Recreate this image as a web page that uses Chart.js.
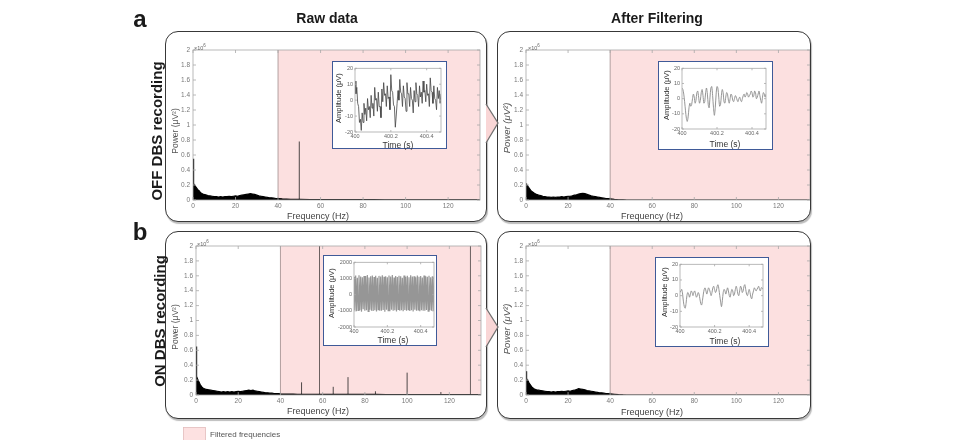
<!DOCTYPE html>
<html>
<head>
<meta charset="utf-8">
<script src="https://cdn.jsdelivr.net/npm/chart.js@4.4.1/dist/chart.umd.min.js"></script>
<style>
  body { margin:0; background:#fff; width:957px; height:440px; overflow:hidden; position:relative; font-family:"Liberation Sans", Arial, sans-serif; }
  .panel { position:absolute; border:1.5px solid #383838; border-radius:13px; box-shadow:1px 2px 1px #bdbdbd; box-sizing:border-box; background:#fff; }
  .inset { position:absolute; border:1.6px solid #3f5a98; background:#fff; box-sizing:border-box; }
  canvas { position:absolute; }
  .lbl { position:absolute; white-space:nowrap; transform:translate(-50%,-50%); line-height:1; }
  .rot { transform:translate(-50%,-50%) rotate(-90deg); }
  .big { font-weight:bold; color:#1a1a1a; }
  .pw { font-size:8.5px; color:#555; }
  .pw.it { font-size:9.5px; font-style:italic; }
  .fq { font-size:9px; color:#444; }
  .amp { font-size:7.5px; color:#333; }
  .tm { font-size:8.5px; color:#333; }
  .exp { position:absolute; font-size:5.5px; color:#666; line-height:1; }
  .exp sup { font-size:4.5px; }
</style>
</head>
<body>
<div class="panel" style="left:165px;top:31px;width:322px;height:191px"></div>
<div class="panel" style="left:497px;top:31px;width:314px;height:191px"></div>
<div class="panel" style="left:165px;top:231px;width:322px;height:188px"></div>
<div class="panel" style="left:497px;top:231px;width:314px;height:188px"></div>

<canvas id="offRaw" width="318" height="188" style="left:166px;top:32px"></canvas>
<canvas id="offFilt" width="312" height="188" style="left:498px;top:32px"></canvas>
<canvas id="onRaw" width="318" height="185" style="left:166px;top:232px"></canvas>
<canvas id="onFilt" width="312" height="185" style="left:498px;top:232px"></canvas>

<div class="inset" style="left:332px;top:61px;width:115px;height:88px"></div>
<div class="inset" style="left:658px;top:61px;width:115px;height:89px"></div>
<div class="inset" style="left:323px;top:255px;width:114px;height:91px"></div>
<div class="inset" style="left:655px;top:257px;width:114px;height:90px"></div>

<canvas id="offRawIn" width="111" height="84" style="left:334px;top:63px"></canvas>
<canvas id="offFiltIn" width="111" height="85" style="left:660px;top:63px"></canvas>
<canvas id="onRawIn" width="110" height="87" style="left:325px;top:257px"></canvas>
<canvas id="onFiltIn" width="110" height="86" style="left:657px;top:259px"></canvas>

<svg width="957" height="440" style="position:absolute;left:0;top:0;pointer-events:none">
  <polygon points="486,104 498,123 486,143" fill="#f9d6d6"/>
  <polyline points="486,104 498,123 486,143" fill="none" stroke="#707070" stroke-width="1.3"/>
  <polygon points="486,308 498,327 486,347" fill="#f9d6d6"/>
  <polyline points="486,308 498,327 486,347" fill="none" stroke="#707070" stroke-width="1.3"/>
  <rect x="183.5" y="427.5" width="22" height="14" fill="#fde1e1" stroke="#e3bcbc" stroke-width="0.8"/>
</svg>

<div class="lbl big" style="left:140px;top:19px;font-size:24px">a</div>
<div class="lbl big" style="left:140px;top:232px;font-size:24px">b</div>
<div class="lbl big" style="left:327px;top:18px;font-size:14px">Raw data</div>
<div class="lbl big" style="left:657px;top:18px;font-size:14px">After Filtering</div>
<div class="lbl big rot" style="left:156px;top:131px;font-size:15px">OFF DBS recording</div>
<div class="lbl big rot" style="left:159px;top:321px;font-size:15px">ON DBS recording</div>

<div class="lbl rot pw" style="left:175px;top:131px">Power (μV²)</div>
<div class="lbl rot pw it" style="left:507px;top:128px">Power (μV²)</div>
<div class="lbl rot pw" style="left:175px;top:327px">Power (μV²)</div>
<div class="lbl rot pw it" style="left:507px;top:329px">Power (μV²)</div>

<div class="lbl fq" style="left:318px;top:216px">Frequency (Hz)</div>
<div class="lbl fq" style="left:652px;top:216px">Frequency (Hz)</div>
<div class="lbl fq" style="left:318px;top:411px">Frequency (Hz)</div>
<div class="lbl fq" style="left:652px;top:412px">Frequency (Hz)</div>

<div class="lbl rot amp" style="left:339px;top:98px">Amplitude (μV)</div>
<div class="lbl rot amp" style="left:667px;top:95px">Amplitude (μV)</div>
<div class="lbl rot amp" style="left:332px;top:293px">Amplitude (μV)</div>
<div class="lbl rot amp" style="left:665px;top:292px">Amplitude (μV)</div>

<div class="lbl tm" style="left:398px;top:145px">Time (s)</div>
<div class="lbl tm" style="left:725px;top:144px">Time (s)</div>
<div class="lbl tm" style="left:393px;top:340px">Time (s)</div>
<div class="lbl tm" style="left:725px;top:341px">Time (s)</div>

<div class="exp" style="left:194px;top:44px">×10<sup>6</sup></div>
<div class="exp" style="left:528px;top:44px">×10<sup>6</sup></div>
<div class="exp" style="left:197px;top:240px">×10<sup>6</sup></div>
<div class="exp" style="left:528px;top:240px">×10<sup>6</sup></div>

<div class="lbl" style="left:210px;top:435px;transform:translate(0,-50%);font-size:8px;color:#555">Filtered frequencies</div>

<script>
// frequency grid of the spectra (Hz)
const specFreq = [0, 0.2, 0.4, 0.7, 1, 1.5, 2, 2.5, 3, 3.5, 4,
  5, 6, 7, 8, 9, 10, 11, 12, 13, 14, 15, 16, 17, 18, 19, 20, 21, 22, 23, 24, 25, 26, 27, 28, 29, 30,
  31, 32, 33, 34, 35, 36, 37, 38, 39, 40,
  42, 44, 46, 48, 50,
  55, 60, 65, 70, 75, 80, 85, 90, 95, 100, 105, 110, 115, 120, 125, 130, 135];

// power, x10^6 uV^2
const offRawPower = [0.55, 0.3, 0.22, 0.2, 0.19, 0.17, 0.15, 0.13, 0.12, 0.1, 0.09,
  0.075, 0.07, 0.06, 0.055, 0.05, 0.045, 0.045, 0.04, 0.045, 0.04, 0.045, 0.045, 0.05, 0.045, 0.05, 0.055,
  0.05, 0.06, 0.065, 0.07, 0.075, 0.08, 0.085, 0.08, 0.075, 0.065, 0.055, 0.05, 0.045, 0.04, 0.035, 0.03,
  0.03, 0.025, 0.02, 0.02,
  0.015, 0.012, 0.01, 0.01, 0.009,
  0.007, 0.006, 0.006, 0.005, 0.005, 0.005, 0.005, 0.004, 0.004, 0.004, 0.004, 0.004, 0.004, 0.004, 0.003, 0.003, 0.003];
const offFiltPower = [0.22, 0.21, 0.2, 0.19, 0.18, 0.16, 0.14, 0.12, 0.11, 0.1, 0.09,
  0.075, 0.065, 0.06, 0.05, 0.045, 0.04, 0.04, 0.035, 0.04, 0.035, 0.04, 0.04, 0.045, 0.04, 0.045, 0.05,
  0.05, 0.055, 0.065, 0.07, 0.08, 0.085, 0.09, 0.085, 0.075, 0.065, 0.055, 0.05, 0.045, 0.04, 0.035, 0.03,
  0.025, 0.02, 0.018, 0.015,
  0.008, 0.004, 0.002, 0.001, 0,
  0, 0, 0, 0, 0, 0, 0, 0, 0, 0, 0, 0, 0, 0, 0, 0, 0];
const onRawPower = [0.65, 0.3, 0.25, 0.22, 0.2, 0.17, 0.14, 0.12, 0.1, 0.09, 0.085,
  0.075, 0.07, 0.065, 0.06, 0.055, 0.05, 0.045, 0.04, 0.045, 0.04, 0.045, 0.04, 0.045, 0.04, 0.045, 0.05,
  0.045, 0.05, 0.055, 0.06, 0.065, 0.06, 0.065, 0.055, 0.05, 0.045, 0.04, 0.035, 0.03, 0.03, 0.025, 0.025,
  0.02, 0.02, 0.018, 0.015,
  0.014, 0.012, 0.012, 0.01, 0.01,
  0.01, 0.009, 0.009, 0.008, 0.008, 0.008, 0.008, 0.007, 0.007, 0.007, 0.007, 0.007, 0.007, 0.006, 0.006, 0.006, 0.006];
const onFiltPower = [0.32, 0.25, 0.22, 0.2, 0.19, 0.16, 0.14, 0.12, 0.1, 0.09, 0.08,
  0.07, 0.065, 0.06, 0.055, 0.05, 0.045, 0.045, 0.04, 0.045, 0.04, 0.045, 0.045, 0.05, 0.045, 0.05, 0.055,
  0.05, 0.06, 0.065, 0.075, 0.085, 0.08, 0.075, 0.07, 0.06, 0.055, 0.05, 0.045, 0.04, 0.035, 0.03, 0.03,
  0.025, 0.02, 0.018, 0.015,
  0.01, 0.005, 0.002, 0.001, 0,
  0, 0, 0, 0, 0, 0, 0, 0, 0, 0, 0, 0, 0, 0, 0, 0, 0];

// narrow peaks
const offRawSpikeFreq = [50];
const offRawSpikePower = [0.78];
const onRawSpikeFreq = [50, 65, 72, 85, 100, 116];
const onRawSpikePower = [0.17, 0.11, 0.24, 0.05, 0.3, 0.04];
const onRawLineFreq = [58.5, 130];   // peaks running off the top of the axis
const onRawLinePower = [2, 2];

const filterBand = [40, 135];

// inset time series, uV, one sample every 5 ms from 400 s
const insetStart = 400;
const insetStep = 0.005;
const offRawAmp = [12, 4, 8, -2, -4, -14, -12, -19, -8, -14,
  -2, -9, -5, -13, 1, -6, -4, -11, 3, -5,
  -2, -10, 8, 0, 1, -7, 5, -4, -4, -11,
  7, -1, 11, 3, 4, -4, 9, 1, 2, -6,
  16, 6, 5, -3, -4, -17, -10, -2, 6, 0,
  13, 5, 4, -4, 9, 2, 1, -7, 11, 4,
  4, -4, 8, 1, 0, -8, 6, -1, 11, 4,
  3, -4, 9, 2, 5, -2, 12, 5, 6, -1,
  10, 3, 4, -4, 14, 6, 5, -2, 9, 1,
  0, -6, 8, 1, 6, -2, 4];
const offFiltAmp = [7, 6, 3, -2, -8, -13, -15, -12, -6, -3,
  -5, -4, 0, 3, 1, -3, -1, 4, 5, 1,
  -3, -1, 4, 6, 2, -3, -2, 4, 7, 3,
  -4, -6, 1, 7, 8, 2, -6, -11, -6, 3,
  8, 7, 1, -5, -4, 2, 6, 4, -2, -3,
  1, 4, 3, -1, -3, 0, 3, 2, -1, -2,
  0, 2, 1, -1, -2, 0, 1, -1, -2, 0,
  2, 3, 1, 2, 4, 3, 1, 2, 3, 5,
  4, 1, 2, 5, 4, 0, 1, 3, 5, 2,
  -1, -3, 1, 4, 3, 1, 3];
const onRawAmp = [1100, -950, 1180, -1020, 1050, -980, 1200, -960, 1120, -1050,
  1080, -900, 1150, -1000, 1150, -970, 1210, -1030, 1060, -940,
  1130, -990, 1190, -1010, 1090, -960, 1170, -1040, 1040, -920,
  1160, -990, 1120, -1000, 1200, -950, 1100, -1060, 1140, -930,
  1070, -990, 1180, -1020, 1120, -940, 1210, -1000, 1060, -960,
  1150, -1040, 1090, -910, 1170, -1000, 1130, -970, 1050, -1030,
  1190, -950, 1100, -990, 1160, -920, 1080, -1010, 1200, -960,
  1120, -1040, 1140, -930, 1070, -1000, 1180, -950, 1110, -1020,
  1150, -960, 1060, -990, 1190, -1000, 1130, -950, 1100, -1020,
  1170, -960, 1080, -990, 1140, -1000, 1120];
const onFiltAmp = [2, 3, 4, 1, -4, -7, -8, -5, 0, 2,
  1, -1, 1, 3, 2, 0, 2, 3, 1, -1,
  0, 2, 1, -2, -5, -6, -3, 1, 4, 5,
  3, 1, 3, 5, 4, 2, 0, 2, 5, 6,
  4, 2, 3, 6, 7, 4, 0, -4, -7, -3,
  2, 4, 3, 1, 3, 5, 3, 0, -1, 2,
  4, 3, 0, 1, 4, 6, 4, 1, 0, 3,
  6, 5, 2, 3, 6, 7, 4, 1, 0, 2,
  4, 2, -1, -2, 1, 3, 5, 4, 3, 4,
  5, 6, 4, 3, 5, 5, 4];

Chart.defaults.font.family = '"Liberation Sans", Arial, sans-serif';
Chart.defaults.color = '#666';

// pink filtered band behind the data, MATLAB-like box with inward ticks on top
const framePlugin = {
  id: 'frame',
  beforeDatasetsDraw(chart, args, opts) {
    if (!opts.band) return;
    const { ctx, chartArea: a, scales: { x } } = chart;
    const x0 = x.getPixelForValue(opts.band[0]);
    const x1 = x.getPixelForValue(opts.band[1]);
    ctx.save();
    ctx.fillStyle = '#fce0e0';
    ctx.fillRect(x0, a.top, x1 - x0, a.bottom - a.top);
    ctx.strokeStyle = '#a08c8c';
    ctx.lineWidth = 0.8;
    ctx.beginPath();
    ctx.moveTo(x0, a.top);
    ctx.lineTo(x0, a.bottom);
    ctx.stroke();
    ctx.restore();
  },
  afterDraw(chart, args, opts) {
    const { ctx, chartArea: a, scales: { x, y } } = chart;
    const len = opts.tick || 3;
    ctx.save();
    ctx.strokeStyle = '#a8a8a8';
    ctx.lineWidth = 0.8;
    ctx.strokeRect(a.left, a.top, a.right - a.left, a.bottom - a.top);
    ctx.beginPath();
    x.ticks.forEach(t => {
      const px = x.getPixelForValue(t.value);
      ctx.moveTo(px, a.bottom); ctx.lineTo(px, a.bottom - len);
      ctx.moveTo(px, a.top); ctx.lineTo(px, a.top + len);
    });
    y.ticks.forEach(t => {
      const py = y.getPixelForValue(t.value);
      ctx.moveTo(a.left, py); ctx.lineTo(a.left + len, py);
      ctx.moveTo(a.right, py); ctx.lineTo(a.right - len, py);
    });
    ctx.stroke();
    ctx.restore();
  }
};

function spikeData(freqs, powers) {
  const pts = [];
  freqs.forEach((f, i) => {
    pts.push({ x: f, y: 0 }, { x: f, y: powers[i] }, { x: f, y: null });
  });
  return pts;
}

function spectrum(id, power, spikes, lines, layout) {
  const datasets = [{
    data: specFreq.map((f, i) => ({ x: f, y: power[i] })),
    borderColor: '#000',
    backgroundColor: '#000',
    borderWidth: 1.1,
    fill: 'origin',
    pointRadius: 0
  }];
  if (spikes) {
    datasets.push({ data: spikeData(spikes[0], spikes[1]), borderColor: '#222', borderWidth: 0.8, pointRadius: 0, fill: false });
  }
  if (lines) {
    datasets.push({ data: spikeData(lines[0], lines[1]), borderColor: '#6b6060', borderWidth: 1, pointRadius: 0, fill: false });
  }
  new Chart(document.getElementById(id), {
    type: 'line',
    data: { datasets },
    options: {
      responsive: false,
      animation: false,
      devicePixelRatio: 1,
      layout: { padding: { top: layout.top, right: layout.right, left: 0, bottom: 0 } },
      plugins: { legend: { display: false }, tooltip: { enabled: false }, frame: { band: filterBand, tick: 3 } },
      scales: {
        x: {
          type: 'linear', min: 0, max: 135,
          grid: { display: false, drawTicks: false }, border: { display: false },
          ticks: { stepSize: 20, includeBounds: false, autoSkip: false, maxRotation: 0, padding: 2, font: { size: 6.5 }, color: '#777' },
          afterFit: s => { s.height = layout.xh; }
        },
        y: {
          min: 0, max: 2,
          grid: { display: false, drawTicks: false }, border: { display: false },
          ticks: { stepSize: 0.2, autoSkip: false, padding: 3, font: { size: 6.5 }, color: '#777', callback: v => +v.toFixed(1) },
          afterFit: s => { s.width = layout.yw; }
        }
      }
    },
    plugins: [framePlugin]
  });
}

function inset(id, amp, yMax, yStep, color, width, tension, layout) {
  new Chart(document.getElementById(id), {
    type: 'line',
    data: {
      datasets: [{
        data: amp.map((v, i) => ({ x: insetStart + i * insetStep, y: v })),
        borderColor: color,
        borderWidth: width,
        pointRadius: 0,
        tension: tension,
        fill: false
      }]
    },
    options: {
      responsive: false,
      animation: false,
      devicePixelRatio: 1,
      layout: { padding: { top: layout.top, right: layout.right, left: 0, bottom: 0 } },
      plugins: { legend: { display: false }, tooltip: { enabled: false }, frame: { tick: 2 } },
      scales: {
        x: {
          type: 'linear', min: 400, max: 400.48,
          grid: { display: false, drawTicks: false }, border: { display: false },
          ticks: { stepSize: 0.2, includeBounds: false, autoSkip: false, maxRotation: 0, padding: 1.5, font: { size: 5.5 }, color: '#666', callback: v => String(+v.toFixed(1)) },
          afterFit: s => { s.height = layout.xh; }
        },
        y: {
          min: -yMax, max: yMax,
          grid: { display: false, drawTicks: false }, border: { display: false },
          ticks: { stepSize: yStep, autoSkip: false, padding: 2, font: { size: 5.5 }, color: '#666', callback: v => String(v) },
          afterFit: s => { s.width = layout.yw; }
        }
      }
    },
    plugins: [framePlugin]
  });
}

spectrum('offRaw', offRawPower, [offRawSpikeFreq, offRawSpikePower], null, { top: 18, right: 4, xh: 20, yw: 27 });
spectrum('offFilt', offFiltPower, null, null, { top: 18, right: 0, xh: 20, yw: 28 });
spectrum('onRaw', onRawPower, [onRawSpikeFreq, onRawSpikePower], [onRawLineFreq, onRawLinePower], { top: 14, right: 3, xh: 22, yw: 30 });
spectrum('onFilt', onFiltPower, null, null, { top: 14, right: 0, xh: 22, yw: 28 });

inset('offRawIn', offRawAmp, 20, 10, '#444', 0.8, 0, { top: 2, right: 4, xh: 15, yw: 21 });
inset('offFiltIn', offFiltAmp, 20, 10, '#8a8a8a', 0.9, 0.3, { top: 4, right: 5, xh: 19, yw: 22 });
inset('onRawIn', onRawAmp, 2000, 1000, 'rgba(80,80,80,0.6)', 1.2, 0, { top: 5, right: 1, xh: 17, yw: 29 });
inset('onFiltIn', onFiltAmp, 20, 10, '#8a8a8a', 0.9, 0.3, { top: 4, right: 4, xh: 18, yw: 23 });
</script>
</body>
</html>
